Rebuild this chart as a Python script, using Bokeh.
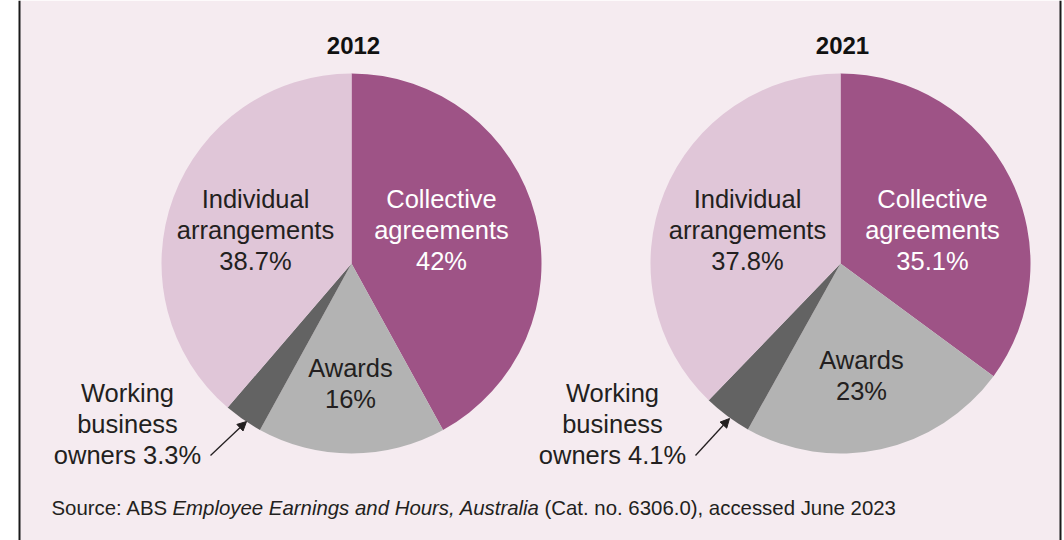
import math
from bokeh.plotting import figure
from bokeh.models import Range1d, Arrow, NormalHead, ColumnDataSource
from bokeh.core.properties import value
from bokeh.embed import file_html
from bokeh.resources import INLINE

# --- data -------------------------------------------------------------
categories = ["Collective agreements", "Awards", "Working business owners", "Individual arrangements"]
years = ["2012", "2021"]
values_2012 = [42, 16, 3.3, 38.7]
values_2021 = [35.1, 23, 4.1, 37.8]
colors = ["#9e5386", "#b3b3b3", "#636363", "#e0c6d8"]

W, H = 1064, 540
FONT = "Liberation Sans"
INK = "#231f20"

p = figure(width=W, height=H, x_range=Range1d(0, W), y_range=Range1d(0, H),
           output_backend="svg", toolbar_location=None, min_border=0)
p.axis.visible = False
p.grid.visible = False
p.outline_line_color = None
p.background_fill_color = "#ffffff"
p.border_fill_color = "#ffffff"

def Y(y):
    # layout written top-down in pixels
    return H - y

# panel background and side rules
p.quad(left=19, right=1060, bottom=0, top=H, fill_color="#f5ebf0", line_color=None)
p.segment(x0=[19, 1060], y0=[0, 0], x1=[19, 1060], y1=[H, H], line_color="#1a1a1a", line_width=2)

pies = [
    dict(year=years[0], vals=values_2012, cx=351, cy=263, r=190,
         tx=353, ind=(255, 198), col=(441, 198), awd=(350, 367), wbo=(127, 392),
         arrow=((210, 455), (246, 421))),
    dict(year=years[1], vals=values_2021, cx=840, cy=263, r=190,
         tx=842, ind=(747, 198), col=(932, 198), awd=(861, 359), wbo=(612, 392),
         arrow=((695, 455), (729, 418))),
]

LH = 31  # line height of slice labels

def label_lines(x, y, lines, color=INK, size="25.5px"):
    p.text(x=[x] * len(lines), y=[Y(y + i * LH) for i in range(len(lines))], text=lines,
           text_font=value(FONT), text_font_size=size, text_color=color,
           text_align="center", text_baseline="middle")

for pie in pies:
    vals = pie["vals"]
    total = sum(vals)
    starts, ends, acc = [], [], 0.0
    for v in vals:
        starts.append(math.pi / 2 - 2 * math.pi * acc / total)
        acc += v
        ends.append(math.pi / 2 - 2 * math.pi * acc / total)
    src = ColumnDataSource(dict(start=starts, end=ends, color=colors, cat=categories))
    p.wedge(x=pie["cx"], y=Y(pie["cy"]), radius=pie["r"], start_angle="start", end_angle="end",
            direction="clock", fill_color="color", line_color=None, source=src)

    p.text(x=[pie["tx"]], y=[Y(45)], text=[pie["year"]], text_font=value(FONT),
           text_font_size="24px", text_font_style="bold", text_color="#111111",
           text_align="center", text_baseline="middle")

    pct = [f"{v:g}%" for v in vals]
    label_lines(*pie["col"], ["Collective", "agreements", pct[0]], color="#ffffff")
    label_lines(*pie["ind"], ["Individual", "arrangements", pct[3]])
    label_lines(*pie["awd"], ["Awards", pct[1]])
    label_lines(*pie["wbo"], ["Working", "business", f"owners {pct[2]}"])

    (x0, y0), (x1, y1) = pie["arrow"]
    p.add_layout(Arrow(x_start=x0, y_start=Y(y0), x_end=x1, y_end=Y(y1),
                       line_color=INK, line_width=1.3,
                       end=NormalHead(size=9, fill_color=INK, line_color=INK)))

# source line with italic title
src_parts = [("Source: ABS", "normal", 51),
             ("Employee Earnings and Hours, Australia", "italic", 172),
             ("(Cat. no. 6306.0), accessed June 2023", "normal", 544)]
for txt, style, x in src_parts:
    p.text(x=[x], y=[Y(507)], text=[txt], text_font=value(FONT), text_font_size="20.4px",
           text_font_style=style, text_color=INK, text_align="left", text_baseline="middle")

open("out.html", "w").write(file_html(p, INLINE))
